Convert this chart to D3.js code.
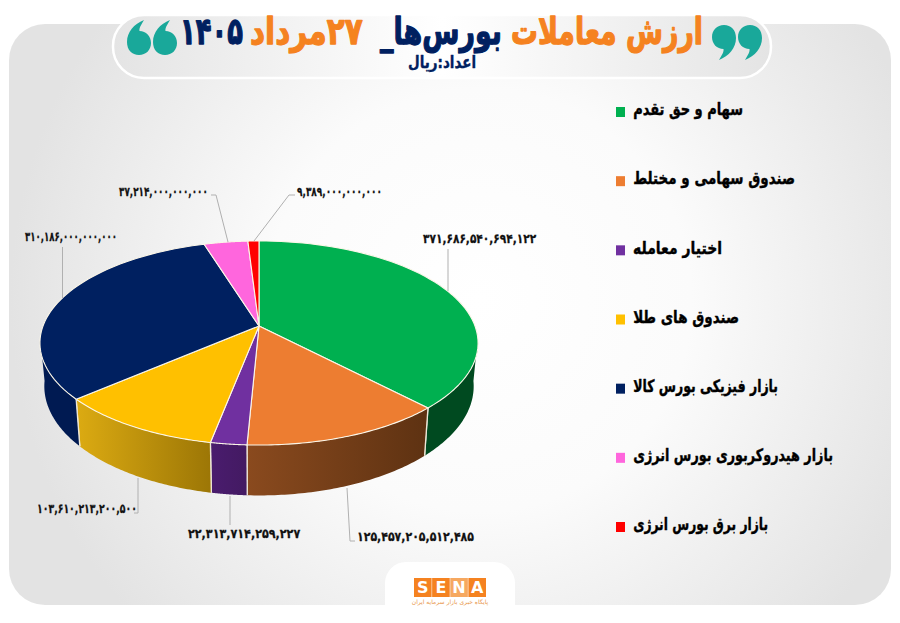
<!DOCTYPE html>
<html lang="fa"><head><meta charset="utf-8">
<script src="https://cdn.jsdelivr.net/npm/d3@7"></script>
<style>html,body{margin:0;padding:0;background:#fff}svg{display:block}text{font-family:"DejaVu Sans",sans-serif;font-weight:700}</style>
</head><body><svg id="c" width="900" height="623"></svg>
<script>
const categories=["سهام و حق تقدم","صندوق سهامی و مختلط","اختیار معامله","صندوق های طلا","بازار فیزیکی بورس کالا","بازار هیدروکربوری بورس انرژی","بازار برق بورس انرژی"];
const values=[371686540694122,125457205512485,22313714259227,103610213200500,310186000000000,37214000000000,9389000000000];
const topColors=["#00b050","#ed7d31","#7030a0","#ffc000","#002060","#ff66dd","#ff0000"];
const sideStart=["#004a20","#8a4a1e","#4a1c6e","#dcab12","#001a52","#b040a0","#a00000"];
const sideEnd=["#004a20","#5e3212","#431a62","#9c7606","#001a52","#b040a0","#a00000"];
const labelBoxes=[[423,537,238],[357,474,536],[188,301,533],[37,137,508],[25,117,236],[119,208,191],[297,382,191]];
const leaders=[[[448,249],[448,291]],[[347,488],[350,541],[355,541]],[[230,496],[230,525]],[[138,478],[138,513],[134,513]],[[62.5,247],[62.5,298]],[[211,195],[216,195],[228,242]],[[295,195],[289,195],[254,241]]];
const legendRight=[743,795,722,739,778,833,768];
const titleParts=[["ارزش معاملات","#f58220",511,703],["بورس‌ها_","#002060",380,502],["۲۷مرداد","#f58220",250,363],["۱۴۰۵","#002060",180,243]];
const subtitle="اعداد:ریال";
const logoLetters=["S","E","N","A"];
const logoCaption="پایگاه خبری بازار سرمایه ایران";

const svg=d3.select("#c");
const defs=svg.append("defs");
const bg=defs.append("radialGradient").attr("id","bg").attr("gradientUnits","userSpaceOnUse")
  .attr("cx",480).attr("cy",300).attr("r",470);
bg.append("stop").attr("offset",0).attr("stop-color","#ffffff");
bg.append("stop").attr("offset",.45).attr("stop-color","#fbfbfb");
bg.append("stop").attr("offset",1).attr("stop-color","#e3e3e3");
const pg=defs.append("linearGradient").attr("id","pill");
pg.append("stop").attr("offset",0).attr("stop-color","#e4e4e4");
pg.append("stop").attr("offset",.5).attr("stop-color","#ffffff");
pg.append("stop").attr("offset",1).attr("stop-color","#e4e4e4");

svg.append("rect").attr("x",9).attr("y",24).attr("width",882).attr("height",581).attr("rx",36).attr("fill","url(#bg)");
svg.append("rect").attr("x",113).attr("y",15).attr("width",658).attr("height",63).attr("rx",31).attr("fill","url(#pill)").attr("stroke","#fff").attr("stroke-width",2.5);

function fit(sel,x0,x1,yc,sy){
  const b=sel.node().getBBox();
  const k=(x1-x0)/b.width;
  sel.attr("transform",`translate(${x0-b.x*k},${yc}) scale(${k},${sy||k})`);
}
function heavy(sel,col,w){return sel.attr("stroke",col).attr("stroke-width",w).attr("stroke-linejoin","round");}

const K=1/6,R=216,DROP=42,SHR=.98;
const px=d3.scaleLinear().domain([-1,1]).range([259-R,259+R]);
const py=d3.scaleLinear().domain([-1,1]).range([326-99.2,326+99.2]);
function pt(a,low){const w=1+Math.cos(a)*K,u=Math.sin(a)/w,v=-Math.cos(a)/w;
  const x=px(u),y=py(v);
  return low?[259+(x-259)*SHR,y+DROP/w]:[x,y];}
const pie=d3.pie().sort(null)(values);
const arcPts=(a0,a1,low)=>d3.range(0,61).map(i=>pt(a0+(a1-a0)*i/60,low));
const line=d3.line();

const vis0=Math.PI/2+.12,vis1=Math.PI*1.5-.12;
pie.forEach((s,i)=>{
  const a0=Math.max(s.startAngle,vis0),a1=Math.min(s.endAngle,vis1);
  if(a1<=a0)return;
  const g=defs.append("linearGradient").attr("id","side"+i);
  g.append("stop").attr("offset",0).attr("stop-color",sideStart[i]);
  g.append("stop").attr("offset",1).attr("stop-color",sideEnd[i]);
  const pts=arcPts(a0,a1,false).concat(arcPts(a0,a1,true).reverse());
  svg.append("path").attr("d",line(pts)+"Z").attr("fill",`url(#side${i})`);
  [s.startAngle,s.endAngle].forEach(a=>{
    if(a>vis0&&a<vis1)svg.append("line").attr("x1",pt(a)[0]).attr("y1",pt(a)[1]).attr("x2",pt(a,true)[0]).attr("y2",pt(a,true)[1]).attr("stroke","#eee8d8").attr("stroke-width",1.3);
  });
});
pie.forEach((s,i)=>{
  const pts=[[259,326]].concat(arcPts(s.startAngle,s.endAngle,false));
  svg.append("path").attr("d",line(pts)+"Z").attr("fill",topColors[i]).attr("stroke","#fbf6e8").attr("stroke-width",1.1).attr("stroke-linejoin","round");
});

const toFa=s=>s.replace(/\d/g,d=>"۰۱۲۳۴۵۶۷۸۹"[d]);
const fmt=d3.format(",d");
leaders.forEach(l=>svg.append("path").attr("d",line(l)).attr("fill","none").attr("stroke","#b0b0b0").attr("stroke-width",1));
values.forEach((v,i)=>{
  const [x0,x1,y]=labelBoxes[i];
  const t=svg.append("text").attr("direction","ltr").style("unicode-bidi","bidi-override").attr("font-size",12).attr("dy",".36em").attr("fill","#111").text(toFa(fmt(v)));
  heavy(t,"#111",.25);
  fit(t,x0,x1,y,1.08);
});

const ly=d3.scalePoint().domain(categories).range([112,527]);
categories.forEach((c,i)=>{
  svg.append("rect").attr("x",616).attr("y",ly(c)-5).attr("width",9).attr("height",10).attr("fill",topColors[i]);
  const t=svg.append("text").attr("direction","rtl").attr("font-size",15).attr("dy",".3em").attr("fill","#000").text(c);
  heavy(t,"#000",.35);
  fit(t,633,legendRight[i],ly(c)-2,1.15);
});

titleParts.forEach(p=>{
  const t=svg.append("text").attr("direction","rtl").attr("font-size",32).attr("dy",".3em").attr("fill",p[1]).text(p[0]);
  heavy(t,p[1],1.1);
  fit(t,p[2],p[3],33,1.15);
});
const st=svg.append("text").attr("direction","rtl").attr("font-size",15).attr("dy",".3em").attr("fill","#002060").text(subtitle);
heavy(st,"#002060",.35);
fit(st,408,476,63,1.1);

const q99="M12 0 C19 0 24 5 24 13 C24 23 17 31 7 35 C10 30 12 27 11.5 24 C5 24 0 19 0 12 C0 5 5 0 12 0 Z";
const quoteX=[[712,25,1],[738,25,1],[153,55,-1],[127,55,-1]];
quoteX.forEach(q=>{
  const tr=q[2]>0?`translate(${q[0]},${q[1]})`:`translate(${q[0]+24},${q[1]}) rotate(180)`;
  svg.append("path").attr("d",q99).attr("transform",tr).attr("fill","#19a89a");
});

svg.append("path").attr("d","M385 605 V583 A21 21 0 0 1 406 562 H494 A21 21 0 0 1 515 583 V605 Z").attr("fill","#fff");
const lx=d3.scaleBand().domain(logoLetters).range([414,486]).paddingInner(.03);
logoLetters.forEach(l=>{
  svg.append("rect").attr("x",lx(l)).attr("y",578).attr("width",lx.bandwidth()).attr("height",19).attr("fill",l==="N"?"#f6a860":"#f58220");
  svg.append("text").attr("x",lx(l)+lx.bandwidth()/2).attr("y",593).attr("text-anchor","middle").attr("font-size",16).attr("fill","#fff").text(l);
});
svg.append("text").attr("x",450).attr("y",604).attr("text-anchor","middle").attr("direction","rtl").attr("font-size",6).attr("fill","#e8964a").style("font-weight",400).text(logoCaption);
</script></body></html>
